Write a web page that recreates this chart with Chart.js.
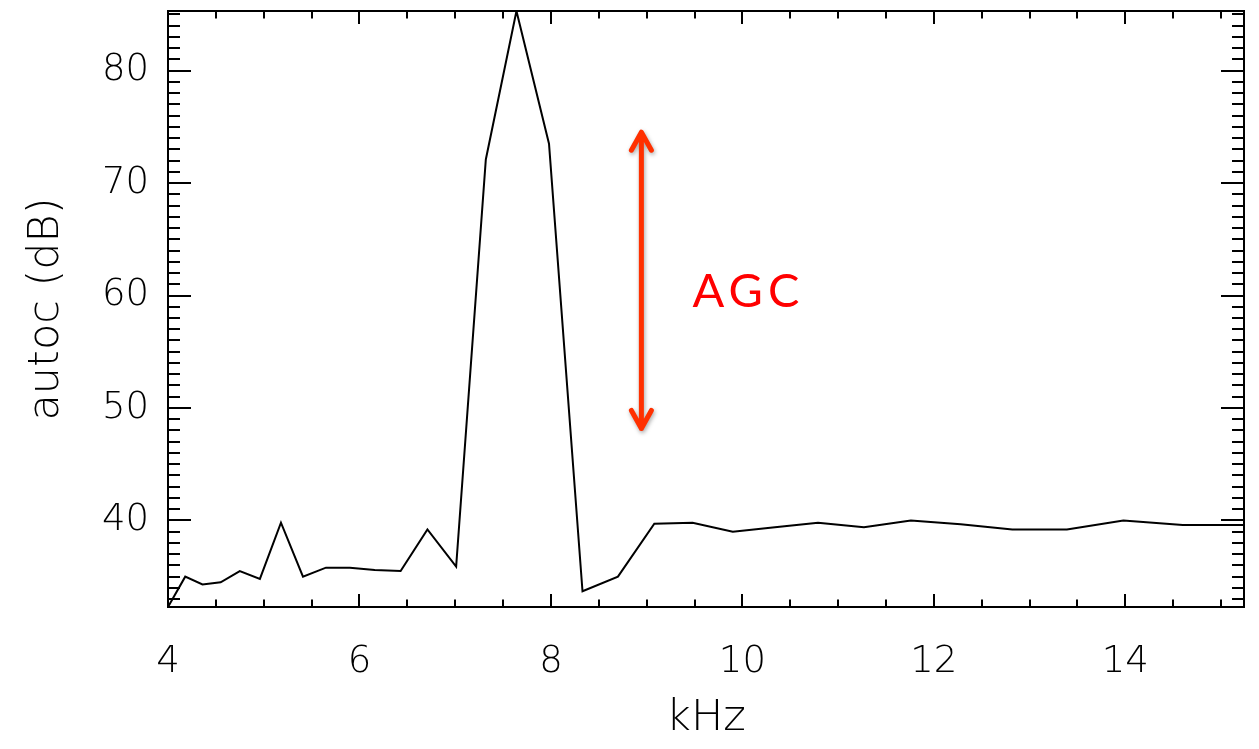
<!DOCTYPE html>
<html>
<head>
<meta charset="utf-8">
<title>autoc</title>
<script src="https://cdn.jsdelivr.net/npm/chart.js"></script>
<style>
  html, body { margin: 0; padding: 0; background: #fff; }
  canvas { display: block; }
</style>
</head>
<body>
<canvas id="chart-area" width="1259" height="749"></canvas>
<script>
var freqKHz = [4.00, 4.18, 4.36, 4.55, 4.75, 4.96, 5.18, 5.41, 5.65, 5.90, 6.16, 6.43, 6.71, 7.01, 7.32, 7.64,
               7.98, 8.33, 8.70, 9.08, 9.48, 9.90, 10.34, 10.79, 11.27, 11.76, 12.28, 12.82, 13.39, 13.98, 14.60, 15.24];
var autocDb = [32.3, 35.0, 34.3, 34.5, 35.5, 34.8, 39.8, 35.0, 35.8, 35.8, 35.6, 35.5, 39.2, 35.9, 72.1, 85.3,
               73.5, 33.7, 35.0, 39.7, 39.8, 39.0, 39.4, 39.8, 39.4, 40.0, 39.65, 39.2, 39.2, 40.0, 39.6, 39.6];
var xTickLabels = [4, 6, 8, 10, 12, 14];
var yTickLabels = [40, 50, 60, 70, 80];

// red AGC marker (data units)
var agcX = 8.945;
var agcRange = [48.0, 74.7];
var agcText = 'AGC';
var agcTextAt = [9.48, 59.0];

var axisFont = "'DejaVu Sans', sans-serif";

// closed box with inward ticks on all four sides, like the original plot
var boxTicks = {
    id: 'boxTicks',
    afterDatasetsDraw: function (chart) {
        var ctx = chart.ctx;
        var a = chart.chartArea;
        var xs = chart.scales.x;
        var ys = chart.scales.y;
        var v, p, len;

        ctx.save();
        ctx.strokeStyle = '#000';
        ctx.lineWidth = 2;
        ctx.beginPath();
        for (v = 4; v <= xs.max + 1e-6; v += 0.5) {
            p = Math.round(xs.getPixelForValue(v));
            len = (Math.abs(v % 2) < 1e-6) ? 13 : 7.5;
            ctx.moveTo(p, a.bottom); ctx.lineTo(p, a.bottom - len);
            ctx.moveTo(p, a.top); ctx.lineTo(p, a.top + len);
        }
        for (v = Math.ceil(ys.min); v <= ys.max; v += 1) {
            p = Math.round(ys.getPixelForValue(v));
            len = (v % 10 === 0) ? 23 : 12;
            ctx.moveTo(a.left, p); ctx.lineTo(a.left + len, p);
            ctx.moveTo(a.right, p); ctx.lineTo(a.right - len, p);
        }
        ctx.stroke();
        ctx.strokeRect(a.left, a.top, a.right - a.left, a.bottom - a.top);

        // double arrow
        var ax = xs.getPixelForValue(agcX);
        var top = ys.getPixelForValue(agcRange[1]);
        var bot = ys.getPixelForValue(agcRange[0]);
        ctx.strokeStyle = '#ff3000';
        ctx.lineWidth = 5;
        ctx.lineCap = 'round';
        ctx.lineJoin = 'round';
        ctx.shadowColor = 'rgba(0,0,0,0.35)';
        ctx.shadowBlur = 4;
        ctx.shadowOffsetX = 1;
        ctx.shadowOffsetY = 2;
        ctx.beginPath();
        ctx.moveTo(ax, top + 2); ctx.lineTo(ax, bot - 2);
        ctx.moveTo(ax - 10, top + 20); ctx.lineTo(ax, top + 2); ctx.lineTo(ax + 10, top + 20);
        ctx.moveTo(ax - 10, bot - 20); ctx.lineTo(ax, bot - 2); ctx.lineTo(ax + 10, bot - 20);
        ctx.stroke();

        ctx.shadowColor = 'rgba(0,0,0,0)';
        ctx.fillStyle = '#ff0000';
        ctx.font = "47px Lato, 'Noto Sans', sans-serif";
        ctx.letterSpacing = '5px';
        ctx.textAlign = 'left';
        ctx.textBaseline = 'alphabetic';
        ctx.fillText(agcText, xs.getPixelForValue(agcTextAt[0]), ys.getPixelForValue(agcTextAt[1]));
        ctx.restore();
    }
};

var config = {
    type: 'line',
    data: {
        datasets: [{
            data: freqKHz.map(function (f, i) { return {x: f, y: autocDb[i]}; }),
            borderColor: '#000',
            borderWidth: 2,
            pointRadius: 0,
            tension: 0,
            fill: false
        }]
    },
    options: {
        responsive: false,
        animation: false,
        devicePixelRatio: 1,
        layout: {padding: {left: 0, top: 11, right: 15, bottom: 0}},
        plugins: {legend: {display: false}, tooltip: {enabled: false}},
        scales: {
            x: {
                type: 'linear',
                min: freqKHz[0],
                max: freqKHz[freqKHz.length - 1],
                grid: {display: false, drawTicks: false},
                border: {display: false},
                afterBuildTicks: function (s) {
                    s.ticks = xTickLabels.map(function (v) { return {value: v}; });
                },
                afterFit: function (s) {
                    s.height = 142;
                    s.paddingLeft = 0;
                    s.paddingRight = 0;
                },
                ticks: {
                    color: '#000',
                    font: {family: axisFont, size: 37, weight: 300},
                    padding: 33,
                    maxRotation: 0,
                    autoSkip: false,
                    callback: function (v) { return String(v); }
                },
                title: {
                    display: true,
                    text: 'kHz',
                    color: '#000',
                    font: {family: axisFont, size: 43, weight: 300},
                    padding: {top: 0, bottom: 4}
                }
            },
            y: {
                type: 'linear',
                min: Math.min.apply(null, autocDb),
                max: Math.max.apply(null, autocDb),
                grid: {display: false, drawTicks: false},
                border: {display: false},
                afterBuildTicks: function (s) {
                    s.ticks = yTickLabels.map(function (v) { return {value: v}; });
                },
                afterFit: function (s) {
                    s.width = 168;
                    s.paddingTop = 0;
                    s.paddingBottom = 0;
                },
                ticks: {
                    color: '#000',
                    font: {family: axisFont, size: 37, weight: 300},
                    padding: 19,
                    autoSkip: false,
                    callback: function (v) { return String(v); }
                },
                title: {
                    display: true,
                    text: 'autoc (dB)',
                    color: '#000',
                    font: {family: axisFont, size: 43, weight: 300},
                    padding: {top: 21, bottom: 0}
                }
            }
        }
    },
    plugins: [boxTicks]
};

window.onload = function () {
    var ctx = document.getElementById('chart-area').getContext('2d');
    window.autocChart = new Chart(ctx, config);
};
</script>
</body>
</html>
